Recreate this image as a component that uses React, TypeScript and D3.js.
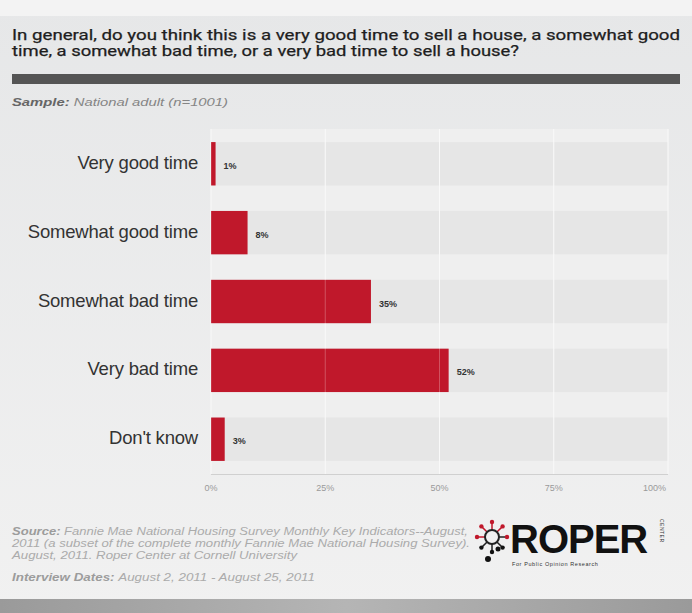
import React from "react";
import * as d3 from "d3";

const categories = ["Very good time", "Somewhat good time", "Somewhat bad time", "Very bad time", "Don't know"];
const values = [1, 8, 35, 52, 3];
const ticks = [0, 25, 50, 75, 100];
const titleLines = [
  "In general, do you think this is a very good time to sell a house, a somewhat good",
  "time, a somewhat bad time, or a very bad time to sell a house?",
];
const sourceLines = [
  "Fannie Mae National Housing Survey Monthly Key Indicators--August,",
  "2011 (a subset of the complete monthly Fannie Mae National Housing Survey).",
  "August, 2011. Roper Center at Cornell University",
];

const W = 692;
const H = 613;
const x = d3.scaleLinear().domain([0, 100]).range([211, 668]);
const y = d3.scaleBand<string>().domain(categories).range([129, 474]).paddingInner(0.37).paddingOuter(0.19);

export default function App() {
  const logoX = 492;
  const logoY = 537;
  const spokes = d3.range(8).map((i) => (i / 8) * Math.PI * 2 - Math.PI / 2);
  const titleLens = [668, 507];
  const srcLens = [456, 458, 285];
  return (
    <svg width={W} height={H} style={{ position: "absolute", left: 0, top: 0 }} fontFamily="'Liberation Sans', Arial, sans-serif">
      <defs>
        <linearGradient id="bg" x1="0" y1="0" x2="0" y2="1">
          <stop offset="0" stopColor="#e6e7e8" />
          <stop offset="1" stopColor="#f1f1f1" />
        </linearGradient>
        <linearGradient id="bottom" x1="0" y1="0" x2="1" y2="0">
          <stop offset="0" stopColor="#9a9a9a" />
          <stop offset="0.5" stopColor="#b5b5b5" />
          <stop offset="1" stopColor="#9a9a9a" />
        </linearGradient>
      </defs>
      <rect x={0} y={0} width={W} height={H} fill="url(#bg)" />
      <rect x={0} y={0} width={W} height={16} fill="#f3f3f3" />
      {titleLines.map((t, i) => (
        <text key={i} x={12} y={40 + i * 16} fontFamily="Roboto, 'Liberation Sans', sans-serif" fontWeight={400} fontSize={14.5} fill="#1e1e1e"
          textLength={titleLens[i]} lengthAdjust="spacingAndGlyphs" stroke="#1e1e1e" strokeWidth={0.25}>{t}</text>
      ))}
      <rect x={12} y={74} width={668} height={10} fill="#555" />
      <text x={12} y={106} fontSize={10.5} fontStyle="italic" fill="#858585" textLength={216} lengthAdjust="spacingAndGlyphs">
        <tspan fontWeight="bold" fill="#666">Sample:</tspan> National adult (n=1001)
      </text>

      {/* plot background */}
      <rect x={x(0)} y={129} width={x(100) - x(0)} height={345} fill="#efefef" />
      {categories.map((c) => (
        <rect key={"band" + c} x={x(0)} y={y(c)} width={x(100) - x(0)} height={y.bandwidth()} fill="#e6e6e6" />
      ))}
      {ticks.map((t) => (
        <line key={"g" + t} x1={x(t)} x2={x(t)} y1={129} y2={474} stroke="#f7f7f7" strokeWidth={1} />
      ))}
      {categories.map((c, i) => (
        <g key={c}>
          <rect x={x(0)} y={y(c)} width={x(values[i]) - x(0)} height={y.bandwidth()} fill="#c0182b" />
          <text x={198} y={(y(c) as number) + y.bandwidth() / 2 + 5} textAnchor="end" fontSize={18.5} letterSpacing={-0.2} fill="#333">{c}</text>
          <text x={x(values[i]) + 8} y={(y(c) as number) + y.bandwidth() / 2 + 5} fontSize={9} fontWeight="bold" fill="#333">{values[i]}%</text>
        </g>
      ))}
      {ticks.map((t) => (
        <line key={"gi" + t} x1={x(t)} x2={x(t)} y1={129} y2={474} stroke="#ffffff" strokeOpacity={0.25} strokeWidth={1} />
      ))}
      <line x1={x(0)} x2={x(100)} y1={474.5} y2={474.5} stroke="#d0d0d0" />
      {ticks.map((t) => (
        <text key={"t" + t} x={t === 100 ? x(t) - 2 : x(t)} y={491} textAnchor={t === 100 ? "end" : "middle"} fontSize={9} fill="#9a9a9a">{t}%</text>
      ))}

      {/* footer */}
      {sourceLines.map((s, i) => (
        <text key={"s" + i} x={12} y={535 + i * 12} fontSize={10} fontStyle="italic" fill="#ababab" textLength={srcLens[i]} lengthAdjust="spacingAndGlyphs">
          {i === 0 ? <tspan fontWeight="bold" fill="#9c9c9c">Source: </tspan> : null}
          {s}
        </text>
      ))}
      <text x={12} y={581} fontSize={10} fontStyle="italic" fill="#ababab" textLength={303} lengthAdjust="spacingAndGlyphs">
        <tspan fontWeight="bold" fill="#9c9c9c">Interview Dates: </tspan>August 2, 2011 - August 25, 2011
      </text>

      {/* logo */}
      <g>
        {spokes.map((a, i) => (
          <line key={"sp" + i} x1={logoX + Math.cos(a) * 7} y1={logoY + Math.sin(a) * 7} x2={logoX + Math.cos(a) * 15} y2={logoY + Math.sin(a) * 15}
            stroke={i >= 2 && i <= 5 ? "#222" : "#c0182b"} strokeWidth={1.5} />
        ))}
        {spokes.map((a, i) => (
          <circle key={"d" + i} cx={logoX + Math.cos(a) * 15} cy={logoY + Math.sin(a) * 15} r={2.2} fill={i >= 3 && i <= 5 ? "#111" : "#c0182b"} />
        ))}
        <circle cx={logoX} cy={logoY} r={7} fill="none" stroke="#222" strokeWidth={2} />
        <circle cx={logoX - 4} cy={logoY + 22} r={3} fill="#111" />
        <circle cx={logoX + 6} cy={logoY + 12} r={2.5} fill="#111" />
        <text x={510} y={553} fontSize={40} fontWeight="bold" fill="#111" fontFamily="'Liberation Sans Narrow', 'Liberation Sans', Arial, sans-serif" letterSpacing={-1}>ROPER</text>
        <text x={0} y={0} transform="translate(660,519) rotate(90)" fontSize={5} fill="#333" letterSpacing={0.5}>CENTER</text>
        <text x={512} y={566} fontSize={5.5} fill="#333" letterSpacing={0.6}>For Public Opinion Research</text>
      </g>

      <rect x={0} y={599} width={W} height={14} fill="url(#bottom)" />
    </svg>
  );
}
